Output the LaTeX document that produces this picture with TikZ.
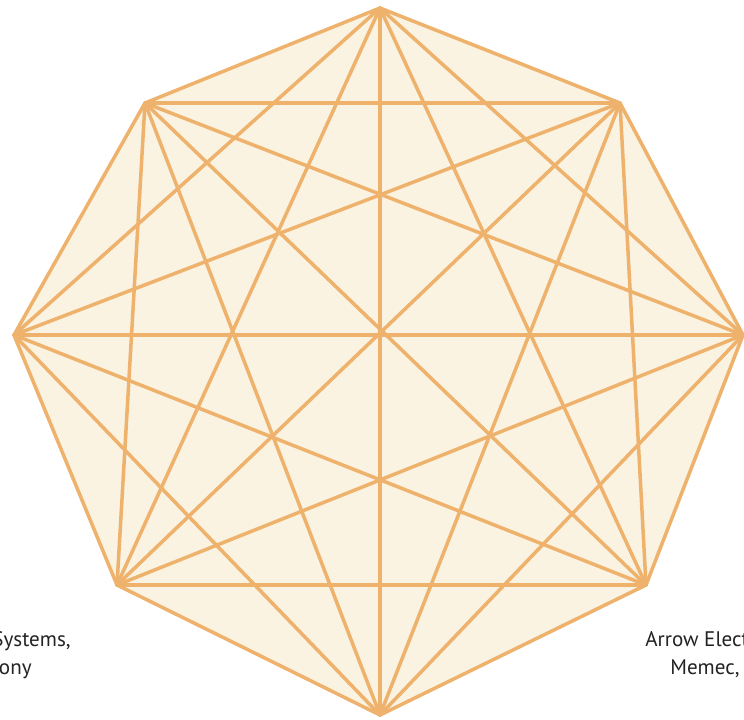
\documentclass[tikz,border=0pt]{standalone}
\usepackage{fontspec}
\setmainfont{PT Sans}
\definecolor{edgeorange}{RGB}{238,178,108}
\definecolor{octcream}{RGB}{250,243,226}
\definecolor{labelgray}{RGB}{35,35,35}
\tikzset{
  edge/.style={edgeorange, line width=2pt, line cap=round, line join=round},
  vendor/.style={font=\fontsize{12}{14}\selectfont, text=labelgray, inner sep=0pt}
}
\begin{document}
\begin{tikzpicture}[x=0.02cm, y=-0.02cm]
    \useasboundingbox (0,0) rectangle (744,720);
    % Ecken des Achtecks
    \coordinate (v1) at (380,8);
    \coordinate (v2) at (620,103);
    \coordinate (v3) at (743,335);
    \coordinate (v4) at (646,585);
    \coordinate (v5) at (380,715);
    \coordinate (v6) at (117,585);
    \coordinate (v7) at (14,335);
    \coordinate (v8) at (145,103);

    % Flaeche
    \fill[octcream] (v1) -- (v2) -- (v3) -- (v4) -- (v5) -- (v6) -- (v7) -- (v8) -- cycle;

    % jede Ecke mit jeder verbunden
    \foreach \i in {1,...,7}{
        \pgfmathtruncatemacro\nxt{\i+1}
        \foreach \j in {\nxt,...,8}{
            \draw[edge] (v\i) -- (v\j);
        }
    }

    % Beschriftungen (am Rand abgeschnitten)
    \node[vendor, anchor=base east] (sysA) at (71,646) {Systems,};
    \node[vendor, anchor=base east] (sysB) at (32,674) {ony};
    \node[vendor, anchor=base west] (arrA) at (645,646) {Arrow Elect};
    \node[vendor, anchor=base west] (arrB) at (670,674) {Memec,};
\end{tikzpicture}
\end{document}
